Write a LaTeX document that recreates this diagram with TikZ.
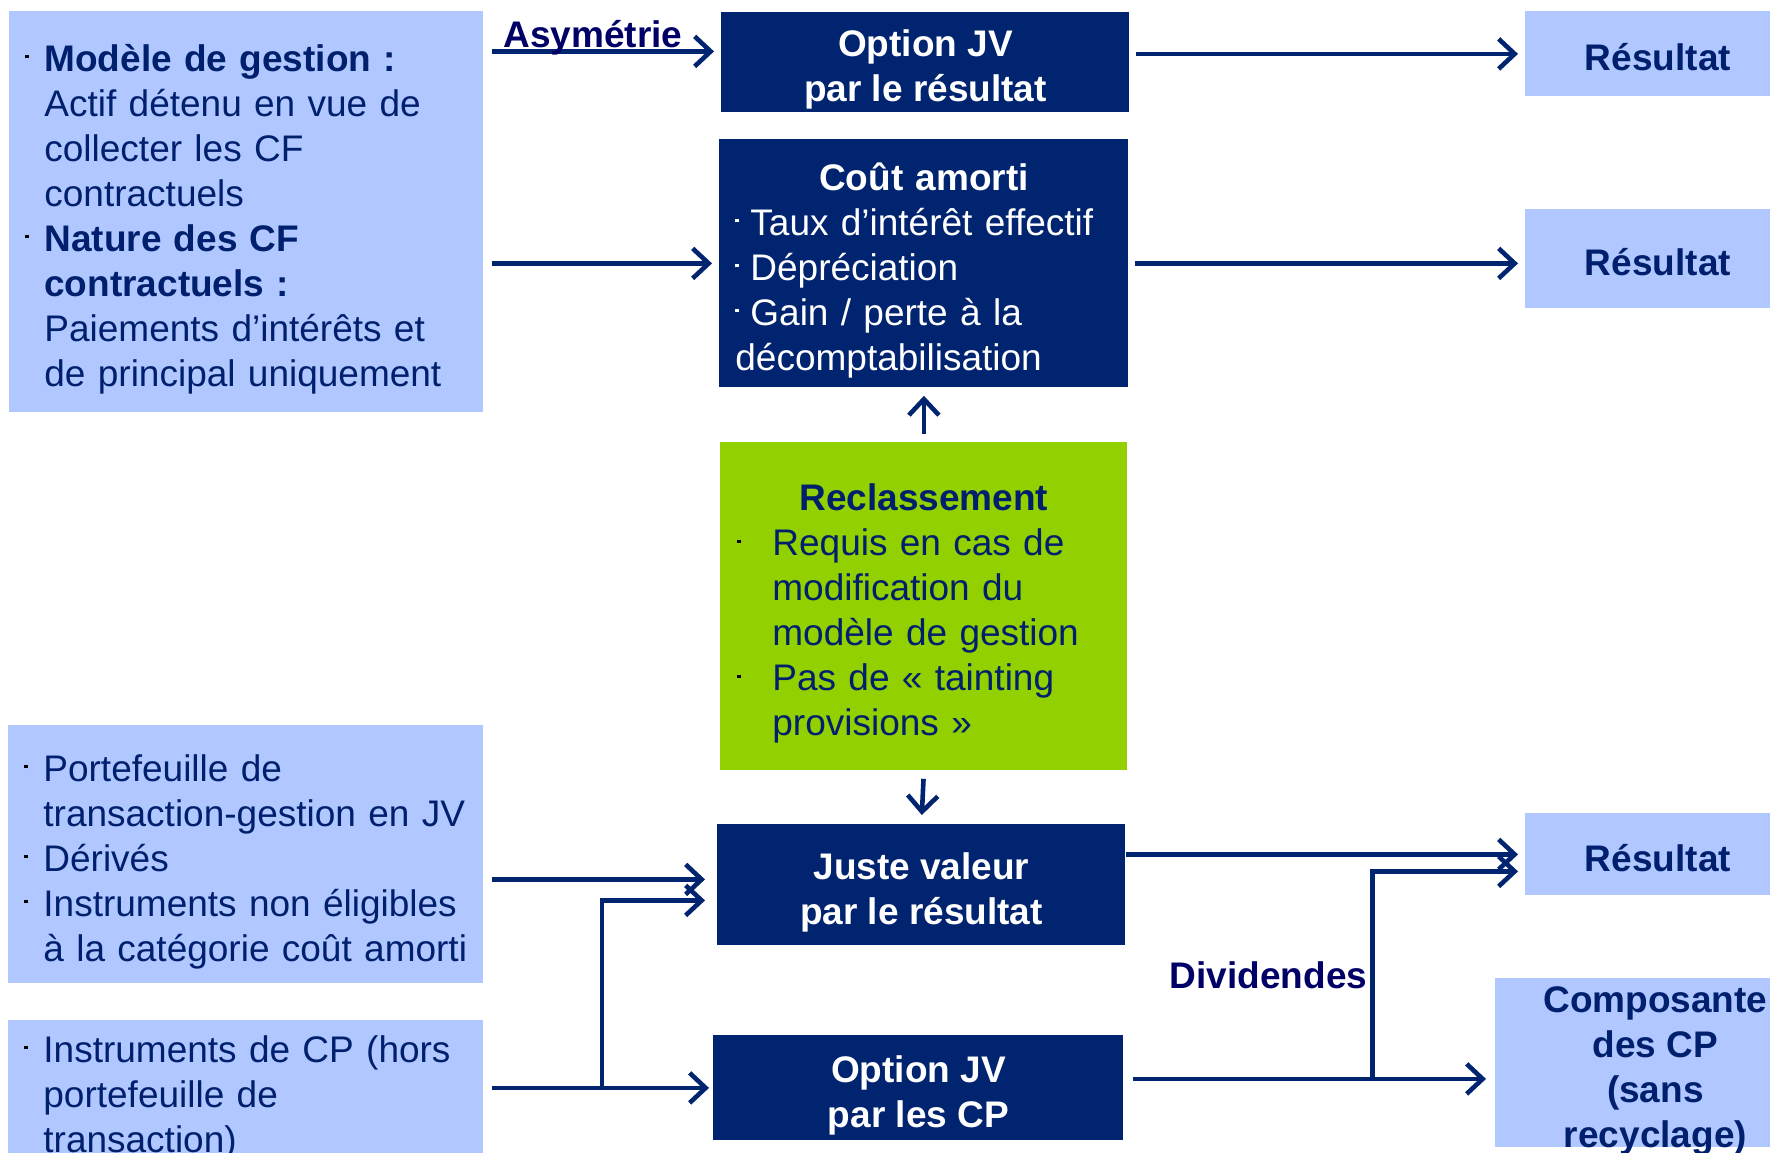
\documentclass[tikz,border=0pt]{standalone}
\usepackage{fontspec}
\setmainfont{Liberation Sans}
\usetikzlibrary{arrows.meta,calc,positioning}

\definecolor{lightbox}{RGB}{176,200,255}
\definecolor{darkbox}{RGB}{0,36,112}
\definecolor{greenbox}{RGB}{146,208,0}
\definecolor{navytext}{RGB}{0,32,110}
\definecolor{labelnavy}{RGB}{0,0,102}

\newcommand{\bdot}[2][black]{\makebox[#2][l]{\textcolor{#1}{\raisebox{6.5pt}{\rule{1.6pt}{1.6pt}}}}}
\newcommand{\topstrut}{\rule{0pt}{21pt}}
\newcommand{\botstrut}{\rule[-4pt]{0pt}{4pt}}
\newcommand{\midtitle}[1]{\hspace*{\fill}\textbf{#1}\hspace*{\fill}\null}

\begin{document}
\begin{tikzpicture}
		[x=0.5pt,y=-0.5pt,font=\fontsize{18.5}{22.5}\selectfont,
		src node/.style={anchor=north west,fill=lightbox,text=navytext,align=left,inner xsep=8pt,inner ysep=0pt},
		cat node/.style={anchor=north west,fill=darkbox,text=white,align=center,inner sep=0pt,font=\fontsize{18.5}{22.5}\selectfont\bfseries},
		res node/.style={anchor=north west,fill=lightbox,text=navytext,align=center,inner sep=0pt,font=\fontsize{18.5}{22.5}\selectfont\bfseries},
		conn/.style={draw=darkbox,line width=2.3pt,-{Straight Barb[length=8pt,width=15pt]},shorten <=3pt,shorten >=3.5pt},
		lbl/.style={text=labelnavy,font=\fontsize{18.5}{22.5}\selectfont\bfseries,inner sep=1.5pt}]
		\useasboundingbox (0,0) rectangle (1770,1152);
		\clip (0,0) rectangle (1770,1152);
		
		\node [src node,text width=221pt,minimum height=200.5pt] (1) at (9,11) {\topstrut\bdot{9.5pt}\textbf{Modèle de gestion :}\\
			\hspace*{9.5pt}Actif détenu en vue de\\
			\hspace*{9.5pt}collecter les CF\\
			\hspace*{9.5pt}contractuels\\
			\bdot{9.5pt}\textbf{Nature des CF}\\
			\hspace*{9.5pt}\textbf{contractuels :}\\
			\hspace*{9.5pt}Paiements d’intérêts et\\
			\hspace*{9.5pt}de principal uniquement\botstrut};
		\node [src node,text width=221.5pt,minimum height=129pt] (2) at (8,725) {\topstrut\bdot{9.5pt}Portefeuille de\\
			\hspace*{9.5pt}transaction-gestion en JV\\
			\bdot{9.5pt}Dérivés\\
			\bdot{9.5pt}Instruments non éligibles\\
			\hspace*{9.5pt}à la catégorie coût amorti\botstrut};
		\node [src node,text width=221.5pt,minimum height=69pt] (3) at (8,1020) {\topstrut\bdot{9.5pt}Instruments de CP (hors\\
			\hspace*{9.5pt}portefeuille de\\
			\hspace*{9.5pt}transaction)\botstrut};
		
		\node [cat node,minimum width=204pt,minimum height=50pt] (4) at (721,12) {\topstrut Option JV\\par le résultat\botstrut};
		\node [src node,fill=darkbox,text=white,text width=188.5pt,minimum height=124pt] (5) at (719,139) {\topstrut\midtitle{Coût amorti}\\
			\bdot[white]{7.5pt}Taux d’intérêt effectif\\
			\bdot[white]{7.5pt}Dépréciation\\
			\bdot[white]{7.5pt}Gain / perte à la\\
			décomptabilisation\botstrut};
		\node [src node,fill=greenbox,inner xsep=8.5pt,text width=186.5pt,minimum height=164pt] (6) at (720,442) {\topstrut\midtitle{Reclassement}\\
			\bdot{17.5pt}Requis en cas de\\
			\hspace*{17.5pt}modification du\\
			\hspace*{17.5pt}modèle de gestion\\
			\bdot{17.5pt}Pas de « tainting\\
			\hspace*{17.5pt}provisions »\botstrut};
		\node [cat node,minimum width=204pt,minimum height=60.5pt] (7) at (717,824) {\topstrut Juste valeur\\par le résultat\botstrut};
		\node [cat node,minimum width=205pt,minimum height=52.5pt] (8) at (713,1035) {\topstrut Option JV\\par les CP\botstrut};
		
		\node [res node,minimum width=132.5pt,minimum height=42.5pt] (9) at (1525,11) {\topstrut Résultat\botstrut};
		\node [res node,minimum width=132.5pt,minimum height=49.5pt] (10) at (1525,209) {\topstrut Résultat\botstrut};
		\node [res node,minimum width=132.5pt,minimum height=41pt] (11) at (1525,813) {\topstrut Résultat\botstrut};
		\node [res node,minimum width=160pt,minimum height=84.5pt,text depth=0pt] (12) at (1495,978) {\rule{0pt}{17pt}Composante\\des CP\\(sans\\recyclage)};
		
		\coordinate (a) at ([yshift=5.5pt]4.west);
		\coordinate (b) at ([yshift=2.75pt]7.west);
		\coordinate (c) at ([yshift=-7.75pt]7.west);
		\coordinate (d) at ($(3.east |- 8.west)!0.515!(8.west)$);
		\coordinate (e) at ([yshift=-8pt]12.west);
		\coordinate (f) at ($(8.east |- e)!0.67!(e)$);
		\coordinate (g) at ([yshift=-8.5pt]11.west);
		
		\draw[conn,shorten <=4pt] (1.east |- a) -- node[lbl,anchor=base,yshift=2pt,pos=0.46] {Asymétrie} (a);
		\draw[conn,shorten <=4pt] (1.east |- 5.west) -- (5.west);
		\draw[conn] (4.east |- 9.west) -- (9.west);
		\draw[conn] (5.east) -- (5.east -| 10.west);
		\draw[conn,shorten <=4pt,shorten >=4pt] (6.north) -- (5.south);
		\draw[conn,shorten <=4pt,shorten >=4.5pt] (6.south) -- (7.north);
		\draw[conn,shorten <=4pt,shorten >=6pt] (2.east |- b) -- (b);
		\draw[conn,shorten <=4pt,shorten >=2pt] (3.east |- 8.west) -- (8.west);
		\draw[conn,shorten <=0pt,shorten >=6pt] (d) |- (c);
		\draw[conn,shorten <=0pt] (7.east |- 11.west) -- (11.west);
		\draw[conn,shorten <=4.5pt,shorten >=4.5pt] (8.east |- e) -- (e);
		\draw[conn,shorten <=0pt] (f) |- node[lbl,left,pos=0.25] {Dividendes} (g);
		
\end{tikzpicture}
\end{document}
